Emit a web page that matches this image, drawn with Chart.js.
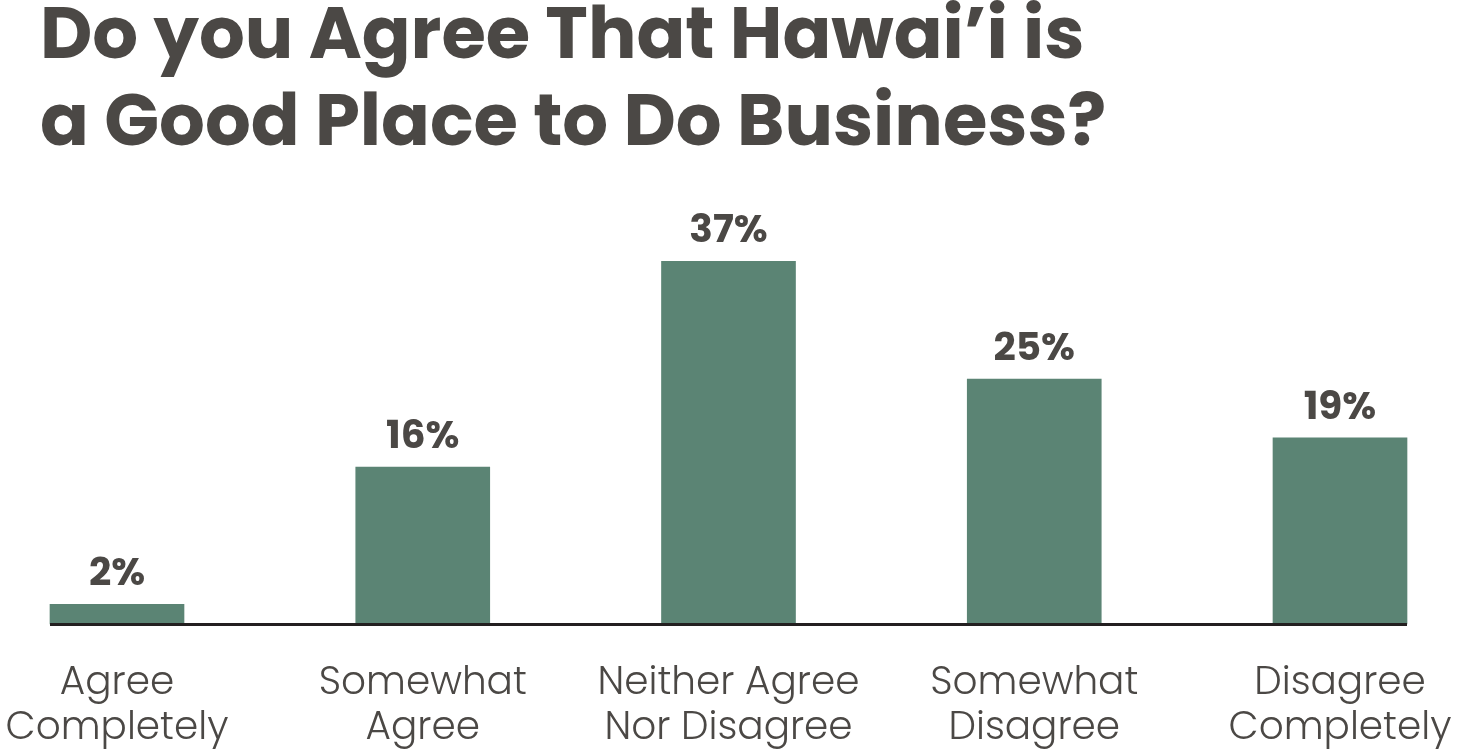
<!DOCTYPE html>
<html><head><meta charset="utf-8">
<script src="https://cdn.jsdelivr.net/npm/chart.js@4/dist/chart.umd.min.js"></script>
<style>html,body{margin:0;padding:0;background:#fff;overflow:hidden}</style>
</head><body>
<canvas id="c" width="1458" height="750"></canvas>
<script>
const titleLines = ["Do you Agree That Hawai’i is", "a Good Place to Do Business?"];
const categories = [["Agree", "Completely"], ["Somewhat", "Agree"], ["Neither Agree", "Nor Disagree"], ["Somewhat", "Disagree"], ["Disagree", "Completely"]];
const values = [2, 16, 37, 25, 19];
const valueLabels = ["2%", "16%", "37%", "25%", "19%"];

const TEXT = '#4b4845';
const BAR = '#5b8474';
const BOLD = 'Poppins, Inter, "Open Sans", sans-serif';
const LIGHT = 'Poppins, Lato, "Open Sans", sans-serif';

const overlay = {
  id: 'overlay',
  afterDatasetsDraw(chart) {
    const ctx = chart.ctx;
    const meta = chart.getDatasetMeta(0);
    const y0 = chart.scales.y.getPixelForValue(0);
    const first = meta.data[0], last = meta.data[meta.data.length - 1];
    const x1 = first.x - first.width / 2, x2 = last.x + last.width / 2;
    ctx.save();
    ctx.fillStyle = '#231f20';
    ctx.fillRect(x1, y0 - 1, x2 - x1, 3);
    ctx.font = '700 39px ' + BOLD;
    ctx.textAlign = 'center';
    ctx.textBaseline = 'alphabetic';
    ctx.fillStyle = TEXT;
    meta.data.forEach((b, i) => ctx.fillText(valueLabels[i], b.x, b.y - 19));
    ctx.restore();
  }
};

new Chart(document.getElementById('c'), {
  type: 'bar',
  data: {
    labels: categories,
    datasets: [{
      data: values,
      backgroundColor: BAR,
      barThickness: 134,
      clip: false,
      borderWidth: 0
    }]
  },
  options: {
    responsive: false,
    devicePixelRatio: 1,
    animation: false,
    layout: { padding: { left: 40, right: 118, top: -3, bottom: 0 } },
    plugins: {
      legend: { display: false },
      tooltip: { enabled: false },
      title: {
        display: true,
        text: titleLines,
        align: 'start',
        color: TEXT,
        font: { family: BOLD, size: 72, weight: '700', lineHeight: 1.2 },
        padding: { top: 0, bottom: 23 }
      }
    },
    scales: {
      x: {
        offset: false,
        grid: { display: false, drawTicks: false },
        border: { display: false },
        ticks: {
          color: TEXT,
          padding: 38,
          maxRotation: 0,
          autoSkip: false,
          font: { family: LIGHT, size: 39, weight: '300', lineHeight: 1.15 }
        },
        afterFit: s => { s.height = 126; s.paddingLeft = 0; s.paddingRight = 0; }
      },
      y: {
        min: 0,
        max: 44,
        display: true,
        grid: { display: false },
        border: { display: false },
        ticks: { display: false },
        afterFit: s => { s.width = 77; }
      }
    }
  },
  plugins: [overlay]
});
</script>
</body></html>
